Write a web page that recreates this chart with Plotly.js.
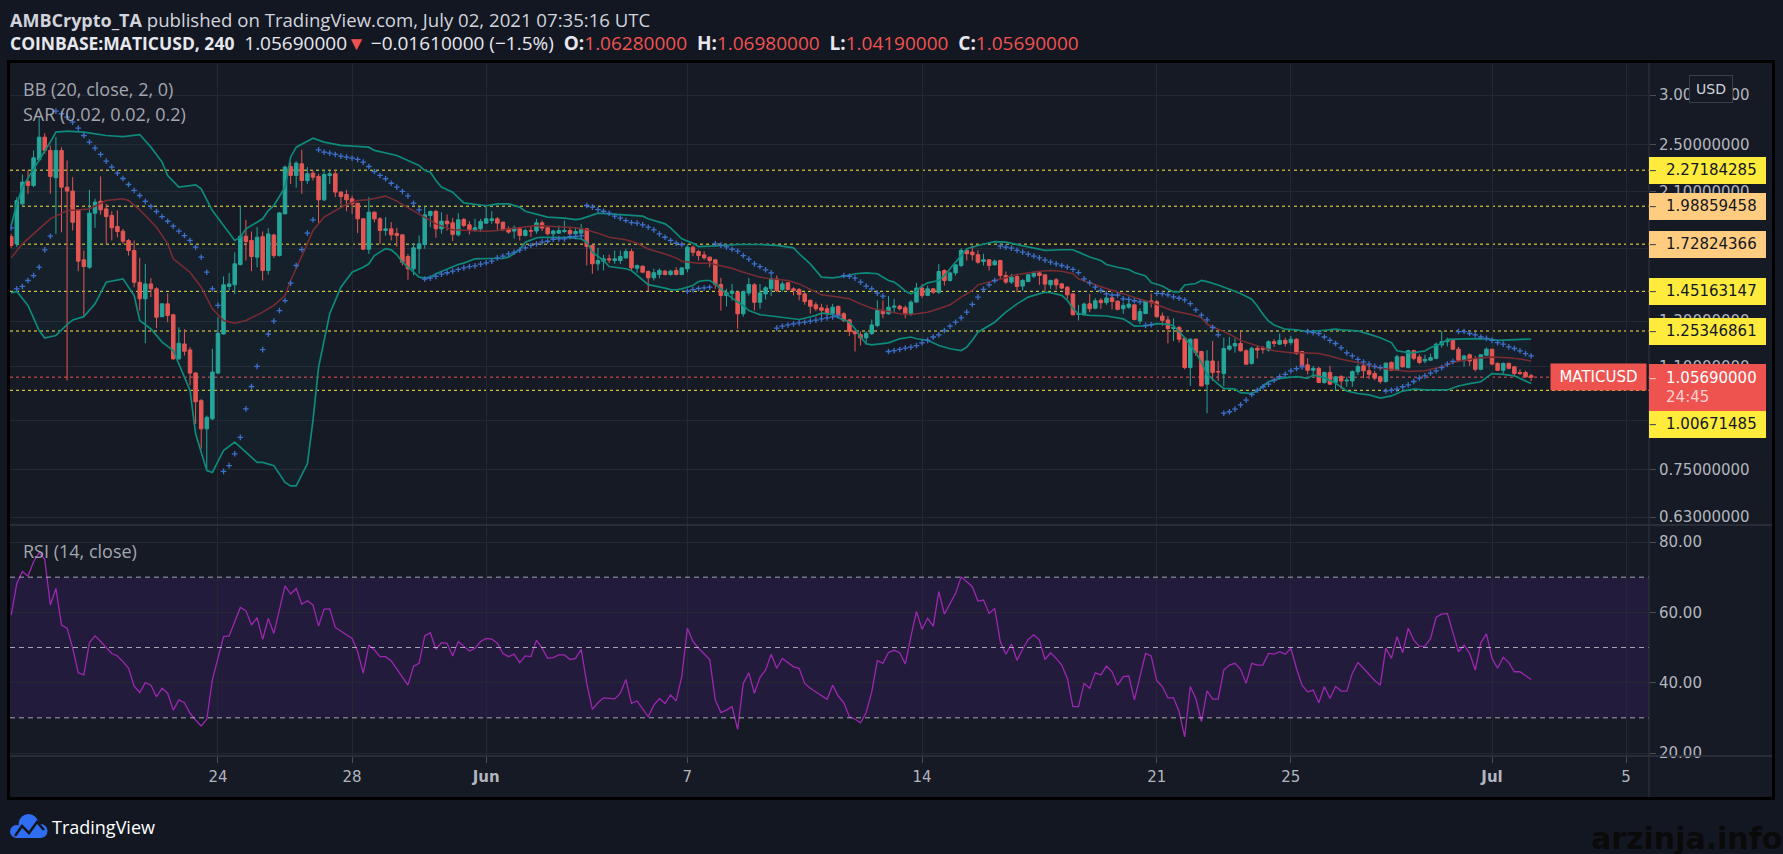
<!DOCTYPE html>
<html><head><meta charset="utf-8">
<script src="https://cdn.plot.ly/plotly-3.0.1.min.js"></script>
<style>html,body{margin:0;padding:0;background:#131722;overflow:hidden}#chart{width:1783px;height:854px}</style>
</head><body><div id="chart"></div>
<script>
// ---------- DATA ----------
const startTime = '2021-05-17T20:00:00Z';   // first visible 4h candle
const stepHours = 4;

const open = [1.777,1.730,2.006,2.179,2.147,2.361,2.567,2.444,2.209,2.444,2.134,2.103,1.962,1.631,1.587,1.938,2.026,1.969,1.921,1.845,1.813,1.752,1.688,1.501,1.412,1.492,1.465,1.322,1.386,1.331,1.131,1.195,1.169,1.073,0.969,0.873,0.906,1.073,1.240,1.478,1.487,1.603,1.780,1.752,1.647,1.777,1.568,1.788,1.657,1.933,2.303,2.228,2.326,2.187,2.247,2.220,2.036,2.228,2.242,2.095,2.077,2.044,2.011,1.898,1.696,1.945,1.898,1.818,1.829,1.798,1.789,1.651,1.578,1.699,1.726,1.922,1.950,1.829,1.882,1.870,1.789,1.893,1.856,1.822,1.829,1.868,1.886,1.898,1.875,1.829,1.814,1.829,1.785,1.818,1.814,1.870,1.836,1.796,1.800,1.811,1.818,1.796,1.800,1.829,1.720,1.607,1.623,1.637,1.627,1.627,1.643,1.682,1.581,1.593,1.562,1.526,1.545,1.564,1.545,1.568,1.545,1.578,1.709,1.682,1.661,1.647,1.631,1.489,1.429,1.441,1.447,1.336,1.443,1.487,1.394,1.438,1.465,1.520,1.462,1.498,1.465,1.462,1.438,1.404,1.381,1.366,1.361,1.336,1.373,1.336,1.306,1.253,1.236,1.222,1.241,1.279,1.353,1.336,1.369,1.374,1.366,1.336,1.395,1.469,1.430,1.465,1.447,1.568,1.511,1.554,1.597,1.689,1.678,1.662,1.621,1.631,1.601,1.627,1.539,1.502,1.533,1.480,1.505,1.535,1.554,1.543,1.487,1.515,1.492,1.474,1.438,1.333,1.331,1.386,1.364,1.404,1.392,1.417,1.400,1.361,1.369,1.381,1.301,1.337,1.401,1.397,1.325,1.306,1.265,1.270,1.220,1.095,1.216,1.162,1.030,1.122,1.079,1.071,1.172,1.186,1.197,1.165,1.112,1.176,1.175,1.168,1.205,1.194,1.211,1.201,1.216,1.162,1.106,1.084,1.092,1.036,1.075,1.036,1.059,1.042,1.042,1.078,1.102,1.082,1.071,1.058,1.040,1.116,1.084,1.140,1.095,1.166,1.139,1.122,1.125,1.133,1.191,1.205,1.211,1.172,1.125,1.148,1.129,1.088,1.146,1.172,1.112,1.084,1.112,1.098,1.075,1.075,1.0628];
const high = [1.795,2.056,2.236,2.269,2.444,2.764,2.605,2.490,2.567,2.474,2.355,2.214,1.962,1.688,2.113,2.044,2.220,2.006,1.952,1.957,1.829,1.762,1.752,1.643,1.607,1.524,1.474,1.389,1.441,1.336,1.271,1.262,1.181,1.077,0.975,0.917,1.174,1.319,1.534,1.553,1.677,1.989,1.891,1.811,1.840,1.811,1.833,1.795,1.945,2.312,2.341,2.349,2.450,2.298,2.269,2.242,2.275,2.269,2.275,2.103,2.113,2.069,2.011,1.903,2.056,1.952,1.910,1.910,1.875,1.836,1.789,1.667,1.736,1.785,1.987,1.957,1.962,1.945,1.929,1.905,1.938,1.905,1.882,1.898,1.898,1.987,1.952,1.910,1.875,1.845,1.852,1.836,1.829,1.845,1.898,1.886,1.845,1.822,1.852,1.886,1.845,1.840,1.863,1.829,1.726,1.705,1.661,1.663,1.688,1.688,1.699,1.699,1.603,1.597,1.568,1.578,1.580,1.572,1.572,1.587,1.587,1.726,1.720,1.692,1.684,1.651,1.631,1.526,1.465,1.492,1.450,1.452,1.526,1.496,1.492,1.480,1.535,1.539,1.505,1.502,1.474,1.469,1.447,1.409,1.395,1.386,1.381,1.386,1.378,1.344,1.311,1.256,1.251,1.251,1.308,1.404,1.404,1.426,1.412,1.381,1.378,1.404,1.498,1.492,1.483,1.469,1.607,1.574,1.562,1.605,1.703,1.703,1.720,1.689,1.668,1.633,1.633,1.631,1.562,1.549,1.549,1.520,1.549,1.562,1.562,1.543,1.516,1.524,1.498,1.480,1.442,1.381,1.392,1.438,1.416,1.416,1.438,1.426,1.404,1.392,1.412,1.381,1.364,1.406,1.440,1.406,1.342,1.325,1.314,1.278,1.226,1.220,1.220,1.165,1.168,1.208,1.122,1.223,1.226,1.220,1.254,1.172,1.183,1.190,1.186,1.211,1.216,1.242,1.223,1.231,1.220,1.165,1.133,1.102,1.098,1.079,1.102,1.062,1.065,1.058,1.084,1.109,1.109,1.106,1.082,1.062,1.116,1.120,1.148,1.143,1.169,1.169,1.150,1.148,1.153,1.201,1.254,1.223,1.216,1.182,1.148,1.153,1.143,1.150,1.179,1.172,1.116,1.116,1.116,1.102,1.088,1.082,1.0698];
const low = [1.705,1.709,1.994,2.082,2.134,2.349,2.414,2.082,1.795,1.806,1.044,1.818,1.564,1.326,1.578,1.836,1.928,1.730,1.752,1.773,1.730,1.657,1.474,1.352,1.198,1.421,1.268,1.319,1.295,1.127,1.127,1.145,1.025,0.889,0.811,0.748,0.902,1.070,1.237,1.456,1.438,1.597,1.627,1.564,1.587,1.511,1.545,1.643,1.651,1.933,2.160,2.129,2.082,2.160,2.187,1.863,2.026,2.160,2.056,2.001,1.952,1.933,1.800,1.696,1.667,1.874,1.730,1.784,1.752,1.713,1.597,1.515,1.540,1.549,1.699,1.840,1.770,1.796,1.818,1.748,1.778,1.840,1.792,1.807,1.807,1.863,1.863,1.822,1.814,1.796,1.763,1.752,1.778,1.774,1.796,1.814,1.785,1.756,1.796,1.800,1.792,1.774,1.774,1.597,1.549,1.568,1.568,1.611,1.607,1.607,1.637,1.568,1.555,1.555,1.452,1.511,1.524,1.540,1.538,1.540,1.540,1.558,1.653,1.627,1.631,1.587,1.465,1.352,1.372,1.403,1.264,1.322,1.429,1.352,1.361,1.409,1.426,1.447,1.451,1.456,1.430,1.404,1.381,1.336,1.349,1.311,1.328,1.331,1.320,1.295,1.230,1.162,1.188,1.192,1.236,1.271,1.314,1.331,1.344,1.353,1.314,1.325,1.392,1.416,1.426,1.438,1.437,1.483,1.505,1.539,1.587,1.627,1.627,1.607,1.597,1.568,1.597,1.520,1.492,1.492,1.447,1.456,1.502,1.524,1.487,1.456,1.465,1.462,1.462,1.412,1.328,1.303,1.325,1.344,1.358,1.361,1.381,1.358,1.353,1.336,1.361,1.303,1.285,1.334,1.367,1.317,1.278,1.197,1.208,1.201,1.088,1.023,1.143,1.023,0.925,1.042,1.042,1.023,1.165,1.157,1.162,1.105,1.107,1.133,1.153,1.162,1.182,1.191,1.184,1.191,1.148,1.099,1.068,1.055,1.036,1.032,1.027,1.004,1.011,1.020,1.020,1.066,1.053,1.049,1.045,1.032,1.036,1.082,1.082,1.095,1.092,1.125,1.109,1.112,1.122,1.129,1.179,1.184,1.168,1.122,1.099,1.102,1.079,1.084,1.143,1.106,1.082,1.068,1.088,1.058,1.066,1.055,1.0419];
const close = [1.720,2.031,2.174,2.147,2.378,2.567,2.444,2.220,2.444,2.134,2.103,1.874,1.623,1.591,1.938,2.019,1.962,1.914,1.836,1.811,1.747,1.688,1.501,1.412,1.492,1.465,1.319,1.386,1.328,1.131,1.198,1.163,1.073,0.965,0.873,0.911,1.077,1.243,1.487,1.492,1.607,1.780,1.745,1.651,1.773,1.568,1.795,1.657,1.940,2.298,2.228,2.332,2.187,2.242,2.214,2.036,2.236,2.242,2.095,2.061,2.036,2.006,1.898,1.696,1.945,1.898,1.818,1.829,1.789,1.785,1.617,1.578,1.705,1.730,1.926,1.950,1.829,1.882,1.863,1.792,1.891,1.852,1.825,1.836,1.879,1.898,1.898,1.868,1.822,1.807,1.834,1.785,1.818,1.814,1.870,1.834,1.796,1.814,1.818,1.818,1.796,1.811,1.829,1.713,1.607,1.627,1.637,1.631,1.637,1.651,1.682,1.583,1.597,1.558,1.526,1.555,1.568,1.545,1.564,1.545,1.583,1.709,1.677,1.657,1.643,1.627,1.489,1.429,1.443,1.452,1.336,1.450,1.489,1.394,1.443,1.471,1.520,1.456,1.492,1.462,1.456,1.435,1.398,1.374,1.361,1.353,1.336,1.369,1.331,1.303,1.251,1.241,1.222,1.243,1.282,1.353,1.336,1.369,1.374,1.361,1.336,1.395,1.469,1.430,1.465,1.447,1.562,1.511,1.554,1.601,1.689,1.668,1.662,1.617,1.631,1.597,1.623,1.539,1.502,1.530,1.478,1.511,1.543,1.554,1.539,1.491,1.511,1.487,1.469,1.433,1.331,1.336,1.385,1.361,1.402,1.392,1.416,1.398,1.358,1.378,1.385,1.308,1.347,1.401,1.392,1.322,1.304,1.265,1.270,1.216,1.095,1.216,1.157,1.023,1.122,1.075,1.078,1.175,1.186,1.197,1.165,1.109,1.176,1.168,1.172,1.205,1.197,1.211,1.197,1.216,1.153,1.102,1.084,1.092,1.036,1.075,1.030,1.058,1.042,1.045,1.079,1.099,1.082,1.068,1.053,1.040,1.113,1.084,1.140,1.098,1.166,1.133,1.116,1.129,1.136,1.194,1.205,1.211,1.172,1.125,1.143,1.122,1.088,1.148,1.172,1.109,1.084,1.112,1.092,1.071,1.071,1.058,1.0569];

// Parabolic SAR (0.02, 0.02, 0.2), one dot per candle
const sar = [1.836,1.465,1.478,1.511,1.539,1.587,1.692,1.780,2.826,2.799,2.764,2.714,2.654,2.583,2.521,2.465,2.408,2.349,2.298,2.247,2.203,2.155,2.108,2.069,2.024,1.987,1.950,1.914,1.881,1.847,1.813,1.784,1.752,1.709,1.647,1.558,1.465,1.378,0.746,0.762,0.796,0.846,0.940,1.021,1.100,1.170,1.239,1.300,1.352,1.403,1.496,1.597,1.694,1.800,1.891,2.450,2.429,2.420,2.408,2.393,2.384,2.375,2.364,2.341,2.303,2.261,2.228,2.201,2.165,2.134,2.100,2.066,2.011,1.962,1.519,1.524,1.534,1.547,1.555,1.564,1.574,1.583,1.591,1.595,1.605,1.613,1.623,1.643,1.653,1.667,1.677,1.690,1.705,1.720,1.730,1.741,1.747,1.760,1.762,1.762,1.777,1.779,1.782,1.994,1.982,1.964,1.952,1.938,1.917,1.903,1.886,1.872,1.868,1.856,1.840,1.822,1.795,1.773,1.752,1.734,1.726,1.452,1.461,1.467,1.470,1.474,1.730,1.722,1.711,1.696,1.684,1.657,1.635,1.607,1.591,1.572,1.554,1.267,1.276,1.282,1.287,1.292,1.295,1.300,1.305,1.311,1.316,1.321,1.326,1.539,1.535,1.524,1.502,1.480,1.465,1.442,1.426,1.162,1.166,1.171,1.177,1.181,1.188,1.200,1.211,1.226,1.236,1.256,1.276,1.295,1.316,1.344,1.383,1.421,1.462,1.487,1.511,1.716,1.709,1.703,1.689,1.678,1.666,1.654,1.643,1.629,1.617,1.607,1.597,1.587,1.574,1.556,1.520,1.498,1.474,1.456,1.438,1.432,1.432,1.412,1.409,1.402,1.396,1.280,1.283,1.441,1.439,1.433,1.422,1.415,1.406,1.387,1.355,1.329,1.306,1.270,1.236,0.925,0.930,0.939,0.954,0.971,0.991,1.007,1.020,1.030,1.045,1.059,1.068,1.082,1.091,1.098,1.251,1.246,1.242,1.226,1.211,1.197,1.178,1.156,1.143,1.129,1.118,1.109,1.100,1.095,1.004,1.007,1.011,1.020,1.027,1.040,1.053,1.062,1.073,1.082,1.095,1.109,1.120,1.251,1.251,1.242,1.236,1.226,1.220,1.211,1.201,1.194,1.182,1.175,1.165,1.153,1.143];

// RSI (14, close), one value per candle (null = not readable)
const rsi = [59.2,68.2,71.6,70.3,74.4,77.0,75.1,62.1,66.8,56.4,55.5,49.8,42.8,42.2,51.4,53.3,51.7,null,48.3,47.6,46.0,44.1,39.0,37.2,40.0,39.3,36.0,38.4,37.0,32.2,35.1,34.3,31.3,29.4,27.7,29.6,40.9,null,53.1,53.3,null,61.4,60.5,56.4,58.5,52.3,58.3,54.0,null,67.5,65.2,66.8,62.3,63.3,62.1,56.1,60.9,61.0,55.7,54.7,null,52.6,48.8,42.7,50.7,49.3,47.4,47.4,46.2,null,41.7,39.3,44.7,45.5,53.3,54.2,49.5,51.4,51.2,47.6,51.7,50.4,49.0,49.8,51.7,52.6,52.4,51.2,48.3,47.4,48.1,45.7,47.6,47.4,52.1,49.8,46.9,47.1,47.9,47.9,46.6,46.9,49.5,39.8,32.4,34.3,35.7,null,35.4,37.0,40.9,34.1,34.8,null,30.3,33.6,35.5,34.1,36.5,34.8,41.7,55.5,51.7,49.8,48.3,46.6,35.1,31.5,32.2,33.2,26.7,39.8,42.8,37.0,41.5,43.6,48.1,44.1,46.9,null,44.5,44.1,39.8,38.4,37.4,null,35.3,39.3,36.2,34.3,30.3,29.6,28.6,31.5,37.4,46.3,45.5,48.6,49.2,48.5,45.3,53.1,60.2,55.2,58.3,56.1,65.9,59.5,62.6,65.4,70.1,68.7,67.3,63.2,63.5,59.7,61.1,51.7,48.1,51.0,46.4,49.5,52.3,53.6,52.1,46.6,48.5,46.9,45.0,41.2,33.2,33.2,39.8,38.4,42.8,42.2,44.7,43.1,39.3,41.7,41.9,35.1,null,48.3,47.6,40.6,38.9,35.7,35.7,31.8,24.6,38.9,35.5,28.9,37.7,35.3,35.3,43.6,45.0,45.5,43.8,39.8,45.5,45.0,45.0,48.3,48.1,48.8,48.1,49.8,44.1,39.3,37.4,37.9,34.3,38.9,35.5,38.9,37.6,37.6,42.7,45.7,44.1,42.4,40.6,39.3,49.8,46.9,53.1,48.5,55.5,52.1,50.3,50.4,52.6,58.6,59.5,59.7,54.0,48.8,50.7,48.3,43.6,51.4,53.9,46.9,44.1,47.2,45.7,43.1,43.1,41.9,40.9];

// Bollinger Bands (20, close, 2) read at the listed candle numbers
const bbUpperIdx = [0,1,2,5,7,8,10,13,17,20,23,25,27,28,30,33,34,36,39,40,41,42,45,46,47,49,50,51,54,56,59,64,65,67,69,71,73,74,75,76,77,79,80,81,85,87,89,91,92,94,96,99,101,102,104,105,107,110,112,113,114,117,118,119,120,122,123,126,130,134,137,140,141,143,144,145,147,149,151,153,155,156,157,158,159,160,161,162,163,164,166,167,168,169,170,171,173,175,176,178,180,182,184,185,188,190,191,193,195,196,198,200,201,203,204,206,207,208,209,210,212,213,214,216,218,220,222,223,224,225,226,228,230,232,235,237,238,241,243,245,247,248,250,251,253,254,256,257,262,265,266,268,271,272];
const bbUpper = [1.852,2.006,2.134,2.355,2.521,2.615,2.625,2.615,2.583,2.573,2.592,2.474,2.341,2.228,2.134,2.152,2.121,1.957,1.795,1.752,1.773,1.829,1.898,1.957,1.994,2.134,2.384,2.474,2.557,2.521,2.490,2.474,2.444,2.420,2.399,2.355,2.312,2.269,2.256,2.187,2.134,2.095,2.051,2.013,1.992,2.006,2.006,1.982,1.952,1.933,1.910,1.903,1.893,1.898,1.922,1.938,1.933,1.926,1.922,1.917,1.898,1.863,1.836,1.796,1.763,1.734,1.713,1.717,1.726,1.726,1.720,1.705,1.668,1.607,1.568,1.530,1.526,1.535,1.549,1.554,1.549,1.530,1.511,1.502,1.480,1.453,1.438,1.456,1.480,1.498,1.511,1.539,1.578,1.617,1.658,1.699,1.720,1.735,1.745,1.741,1.726,1.709,1.695,1.689,1.693,1.693,1.678,1.648,1.627,1.603,1.587,1.574,1.556,1.537,1.500,1.481,1.463,1.449,1.449,1.486,1.494,1.512,1.505,1.486,1.463,1.440,1.410,1.375,1.334,1.301,1.282,1.262,1.259,1.251,1.257,1.262,1.259,1.254,1.239,1.223,1.201,1.165,1.157,1.157,1.165,1.179,1.197,1.215,1.219,1.216,1.211,1.213,1.216,1.217];
const bbLowerIdx = [0,1,3,5,6,8,10,11,13,15,17,20,22,23,25,27,29,30,32,33,35,36,38,40,42,44,45,47,49,50,51,53,54,55,57,59,61,63,64,65,67,68,69,70,72,73,74,75,76,78,79,80,81,82,83,86,88,89,91,92,93,94,95,98,100,102,103,104,106,107,109,110,111,112,113,114,117,118,119,120,122,123,124,125,126,128,130,131,132,134,136,139,141,142,144,145,147,148,150,151,152,153,154,157,159,161,162,164,166,168,170,171,172,173,176,178,180,182,184,185,186,188,189,190,191,193,196,197,199,200,201,203,205,207,208,210,212,213,214,216,217,219,220,222,223,224,225,227,229,230,232,233,235,237,239,241,243,245,247,249,251,253,257,259,261,263,264,265,267,269,272];
const bbLower = [1.443,1.451,1.378,1.256,1.221,1.233,1.284,1.306,1.322,1.386,1.501,1.520,1.429,1.303,1.263,1.203,1.166,1.110,1.006,0.857,0.748,0.743,0.806,0.831,0.801,0.771,0.771,0.762,0.716,0.707,0.707,0.767,0.900,1.096,1.336,1.474,1.558,1.587,1.607,1.657,1.700,1.692,1.663,1.617,1.558,1.530,1.524,1.530,1.549,1.578,1.591,1.603,1.611,1.623,1.637,1.639,1.639,1.647,1.694,1.741,1.756,1.769,1.773,1.773,1.771,1.762,1.741,1.677,1.627,1.591,1.581,1.578,1.568,1.539,1.511,1.488,1.469,1.461,1.460,1.465,1.483,1.505,1.511,1.511,1.492,1.438,1.395,1.378,1.352,1.331,1.325,1.316,1.308,1.314,1.328,1.339,1.333,1.316,1.295,1.264,1.226,1.196,1.191,1.200,1.218,1.226,1.218,1.211,1.188,1.174,1.166,1.181,1.211,1.248,1.295,1.344,1.386,1.421,1.438,1.447,1.444,1.430,1.404,1.361,1.336,1.328,1.325,1.320,1.311,1.295,1.276,1.278,1.288,1.285,1.278,1.223,1.157,1.116,1.068,1.030,1.014,1.011,0.998,0.995,1.004,1.023,1.039,1.052,1.055,1.059,1.052,1.065,1.055,1.033,1.004,0.995,0.990,0.978,0.986,1.004,1.011,1.008,1.008,1.023,1.032,1.039,1.055,1.071,1.068,1.062,1.032];
const bbBasisIdx = [0,2,5,7,10,12,14,17,20,21,23,26,28,29,32,34,36,38,40,42,44,45,47,49,50,52,53,54,56,58,60,62,64,66,67,69,72,74,76,79,81,85,87,89,92,94,97,99,101,103,105,107,110,112,114,117,119,120,123,125,126,129,131,133,134,136,139,141,143,145,148,150,152,154,157,159,161,164,166,168,170,172,173,176,178,179,182,184,186,188,190,191,194,196,198,200,201,204,206,208,211,213,214,216,218,220,222,224,226,229,231,234,236,238,241,243,245,248,250,253,254,256,258,260,262,265,266,268,270,272];
const bbBasis = [1.643,1.730,1.829,1.898,1.957,1.962,1.969,2.031,2.044,2.031,1.962,1.840,1.730,1.637,1.558,1.474,1.361,1.303,1.290,1.303,1.328,1.344,1.378,1.429,1.511,1.647,1.730,1.818,1.910,1.957,2.001,2.031,2.036,2.056,2.064,2.026,1.957,1.910,1.863,1.822,1.818,1.813,1.818,1.829,1.845,1.852,1.845,1.840,1.836,1.822,1.800,1.773,1.756,1.734,1.698,1.667,1.643,1.623,1.611,1.611,1.603,1.581,1.558,1.539,1.530,1.520,1.511,1.492,1.462,1.433,1.421,1.412,1.386,1.364,1.347,1.336,1.333,1.344,1.361,1.381,1.421,1.456,1.487,1.511,1.526,1.539,1.554,1.564,1.568,1.564,1.549,1.520,1.487,1.465,1.447,1.430,1.419,1.393,1.370,1.350,1.334,1.317,1.285,1.262,1.239,1.211,1.194,1.179,1.165,1.157,1.157,1.153,1.143,1.129,1.116,1.102,1.092,1.084,1.079,1.082,1.088,1.098,1.116,1.126,1.133,1.139,1.139,1.136,1.130,1.122];

// Axis ticks and labels
const dateTicks = ['2021-05-24','2021-05-28','2021-06-01','2021-06-07','2021-06-14','2021-06-21','2021-06-25','2021-07-01','2021-07-05'];
const dateTickText = ['24','28','<b>Jun</b>','7','14','21','25','<b>Jul</b>','5'];
const xRange = ['2021-05-17 19:08', '2021-07-05 16:22'];
const priceTicks = [0.63,0.75,0.9,1.1,1.3,1.7,2.1,2.5,3.0];
const priceTickText = ['0.63000000','0.75000000','0.90000000','1.10000000','1.30000000','1.70000000','2.10000000','2.50000000','3.00000000'];
const priceRange = [0.6118, 3.377];
const rsiTicks = [20,40,60,80];
const rsiTickText = ['20.00','40.00','60.00','80.00'];
const rsiRange = [19.15, 84.55];
const rsiLevels = [70,50,30];

// Horizontal price levels drawn by the author
const levels = [2.27184285,1.98859458,1.72824366,1.45163147,1.25346861,1.00671485];
const levelText = ['2.27184285','1.98859458','1.72824366','1.45163147','1.25346861','1.00671485'];
const levelColor = ['#ffeb3b','#ffcc80','#ffcc80','#ffeb3b','#ffeb3b','#ffeb3b'];
const levelLabelShift = [0,0,0,0,0,-33.7];
const lastPrice = 1.0569;
const lastPriceText = '1.05690000';
const countdown = '24:45';

// ---------- BUILD ----------
const t0 = Date.parse(startTime);
const tAt = i => new Date(t0 + i * stepHours * 3600e3).toISOString().slice(0,19).replace('T',' ');
const times = open.map((_, i) => tAt(i));

const PL = 10, PR = 1649, PT = 63, PB = 756, W = PR - PL, H = PB - PT;
const px = v => (v - PL) / W;
const py = v => (PB - v) / H;
const mainDomain = [py(525), 1];
const rsiDomain = [0, py(526)];

const up = '#26a69a', down = '#ef5350';
const traces = [
  {type:'scatter', mode:'lines', x: bbLowerIdx.map(tAt), y: bbLower, line:{width:0, color:'rgba(0,0,0,0)'}, xaxis:'x', yaxis:'y', hoverinfo:'skip'},
  {type:'scatter', mode:'lines', x: bbUpperIdx.map(tAt), y: bbUpper, line:{width:0, color:'rgba(0,0,0,0)'}, fill:'tonexty', fillcolor:'rgba(38,166,154,0.05)', xaxis:'x', yaxis:'y', hoverinfo:'skip'},
  {type:'candlestick', x: times, open, high, low, close, xaxis:'x', yaxis:'y',
    increasing:{line:{color:up, width:1}, fillcolor:up}, decreasing:{line:{color:down, width:1}, fillcolor:down},
    whiskerwidth:0, hoverinfo:'skip'},
  {type:'scatter', mode:'lines', x: bbUpperIdx.map(tAt), y: bbUpper, line:{width:1.7, color:'#0d8a7b'}, xaxis:'x', yaxis:'y', hoverinfo:'skip'},
  {type:'scatter', mode:'lines', x: bbLowerIdx.map(tAt), y: bbLower, line:{width:1.7, color:'#0d8a7b'}, xaxis:'x', yaxis:'y', hoverinfo:'skip'},
  {type:'scatter', mode:'lines', x: bbBasisIdx.map(tAt), y: bbBasis, line:{width:1.5, color:'#7c2c31'}, xaxis:'x', yaxis:'y', hoverinfo:'skip'},
  {type:'scatter', mode:'markers', x: times, y: sar, marker:{symbol:'cross-thin', size:4, line:{width:1.3, color:'#3d6fcc'}}, xaxis:'x', yaxis:'y', hoverinfo:'skip'},
  {type:'scatter', mode:'lines', x: times, y: rsi, connectgaps:true, line:{width:1.3, color:'#9c27b0'}, xaxis:'x', yaxis:'y2', hoverinfo:'skip'}
];

const grid = '#242832', sep = '#30343f', axisText = '#b2b5be';
const shapes = [];
const annotations = [];
// chart frame
shapes.push({type:'rect', xref:'paper', yref:'paper', x0:px(8.5), x1:px(1773.5), y0:py(798.5), y1:py(61.5), fillcolor:'#161a25', line:{color:'#000000', width:3}, layer:'below'});
// RSI band
shapes.push({type:'rect', xref:'paper', x0:0, x1:1, yref:'y2', y0:30, y1:70, fillcolor:'#231b3b', line:{width:0}, layer:'below'});
// dotted price levels
levels.forEach(v => shapes.push({type:'line', xref:'paper', x0:0, x1:1, yref:'y', y0:v, y1:v, line:{color:'#ffeb3b', width:1, dash:'dot'}, layer:'below'}));
shapes.push({type:'line', xref:'paper', x0:0, x1:1, yref:'y', y0:lastPrice, y1:lastPrice, line:{color:'#ef5350', width:1, dash:'dot'}, layer:'below'});
// RSI dashed levels
rsiLevels.forEach(v => shapes.push({type:'line', xref:'paper', x0:0, x1:1, yref:'y2', y0:v, y1:v, line:{color:'rgba(210,212,220,0.75)', width:1, dash:'5px,4px'}, layer:'above'}));
// separators
shapes.push({type:'line', xref:'paper', yref:'paper', x0:0, x1:px(1772), y0:py(525), y1:py(525), line:{color:sep, width:1.5}, layer:'above'});
shapes.push({type:'line', xref:'paper', yref:'paper', x0:0, x1:px(1772), y0:0, y1:0, line:{color:sep, width:1.5}, layer:'above'});
shapes.push({type:'line', xref:'paper', yref:'paper', x0:1, x1:1, y0:py(797), y1:py(63), line:{color:sep, width:1}, layer:'above'});

// right-hand price labels (annotation boxes sit above the axis tick labels)
const lblFont = 'DejaVu Sans, Verdana, sans-serif';
const dash = c => '<span style="color:'+c+'">–</span>&nbsp;&nbsp;';
levels.forEach((v, i) => {
  annotations.push({xref:'paper', x:1, xanchor:'left', yref:'y', y:Math.log10(v), yshift:levelLabelShift[i], yanchor:'middle',
    width:117, height:26.8, align:'left', valign:'middle', bgcolor:levelColor[i], borderpad:0, borderwidth:0, showarrow:false,
    text:dash('#4e4d52') + levelText[i], font:{family:lblFont, size:15, color:'#131722'}});
});
// last price box
annotations.push({xref:'paper', x:1, xanchor:'left', yref:'y', y:Math.log10(lastPrice), yshift:12.7, yanchor:'top',
  width:117, height:47.4, align:'left', valign:'middle', bgcolor:'#ef5350', borderpad:0, borderwidth:0, showarrow:false,
  text:dash('#f7c2c1') + lastPriceText + '<br>' + dash('#ef5350') + '<span style="color:#fbd0cf">' + countdown + '</span>',
  font:{family:lblFont, size:15, color:'#ffffff'}});
annotations.push({xref:'paper', x:1, xanchor:'right', xshift:-2, yref:'y', y:Math.log10(lastPrice), yanchor:'middle',
  width:95, height:26, align:'center', valign:'middle', bgcolor:'#ef5350', borderpad:0, showarrow:false,
  text:'MATICUSD', font:{family:lblFont, size:15, color:'#ffffff'}});
// USD badge
annotations.push({xref:'paper', yref:'paper', x:px(1711), y:py(89), xanchor:'center', yanchor:'middle', width:42, height:26,
  bgcolor:'#161a25', bordercolor:'#3a3e49', borderwidth:1, borderpad:0, showarrow:false, text:'USD', font:{family:lblFont, size:14, color:'#d1d4dc'}});

// header texts
const hdrFont = 'Open Sans, Noto Sans, sans-serif';
annotations.push({xref:'paper', yref:'paper', x:px(8), y:py(19), xanchor:'left', yanchor:'middle', showarrow:false,
  text:'<span style="font-size:18px"><b>AMBCrypto_TA</b></span> published on TradingView.com, July 02, 2021 07:35:16 UTC', font:{family:hdrFont, size:18.6, color:'#d1d4dc'}});
const red = s => '<span style="color:#ef5350">'+s+'</span>';
annotations.push({xref:'paper', yref:'paper', x:px(8), y:py(43), xanchor:'left', yanchor:'middle', showarrow:false,
  text:'<span style="font-size:17.5px"><b>COINBASE:MATICUSD, 240</b></span>&nbsp; 1.05690000'+red('▼')+' −0.01610000 (−1.5%)&nbsp; <b>O:</b>'+red('1.06280000')+'&nbsp; <b>H:</b>'+red('1.06980000')+'&nbsp; <b>L:</b>'+red('1.04190000')+'&nbsp; <b>C:</b>'+red('1.05690000'),
  font:{family:hdrFont, size:19, color:'#e6e8ee'}});
// indicator legends
const legFont = {family:hdrFont, size:18, color:'#a3a6af'};
annotations.push({xref:'paper', yref:'paper', x:px(21), y:py(89), xanchor:'left', yanchor:'middle', showarrow:false, text:'BB (20, close, 2, 0)', font:legFont});
annotations.push({xref:'paper', yref:'paper', x:px(21), y:py(114), xanchor:'left', yanchor:'middle', showarrow:false, text:'SAR (0.02, 0.02, 0.2)', font:legFont});
annotations.push({xref:'paper', yref:'paper', x:px(21), y:py(551), xanchor:'left', yanchor:'middle', showarrow:false, text:'RSI (14, close)', font:legFont});

// TradingView logo (cloud)
const P = (X, Y) => ({x: X - PL, y: PB - Y});
const logoBlue = '#2f6ef2';
[[16.5,831.5,6.5],[28.5,824,10],[40.5,831,7]].forEach(([cx,cy,r]) => {
  const a = P(cx - r, cy + r), b = P(cx + r, cy - r);
  shapes.push({type:'circle', xref:'paper', yref:'paper', xsizemode:'pixel', ysizemode:'pixel', xanchor:0, yanchor:0, x0:a.x, x1:b.x, y0:a.y, y1:b.y, fillcolor:logoBlue, line:{width:0}, layer:'above'});
});
{ const a = P(16.5, 838), b = P(40.5, 826);
  shapes.push({type:'rect', xref:'paper', yref:'paper', xsizemode:'pixel', ysizemode:'pixel', xanchor:0, yanchor:0, x0:a.x, x1:b.x, y0:a.y, y1:b.y, fillcolor:logoBlue, line:{width:0}, layer:'above'}); }
{ const pts = [P(15,836),P(22,826),P(29,833),P(37,822),P(44,830)];
  shapes.push({type:'path', xref:'paper', yref:'paper', xsizemode:'pixel', ysizemode:'pixel', xanchor:0, yanchor:0,
    path:'M'+pts.map(p => p.x+','+p.y).join(' L'), line:{color:'#131722', width:2.5}, layer:'above'}); }
annotations.push({xref:'paper', yref:'paper', x:px(50), y:py(827), xanchor:'left', yanchor:'middle', showarrow:false, text:'TradingView', font:{family:hdrFont, size:18, color:'#ffffff'}});
// watermark
annotations.push({xref:'paper', yref:'paper', x:px(1784), y:py(838), xanchor:'right', yanchor:'middle', showarrow:false, text:'<b>arzinja.info</b>', font:{family:'DejaVu Sans, Verdana, sans-serif', size:30, color:'#0a0a0b'}});

const layout = {
  width:1783, height:854, margin:{l:PL, r:1783-PR, t:PT, b:854-PB, pad:0},
  paper_bgcolor:'#131722', plot_bgcolor:'rgba(0,0,0,0)', showlegend:false, hovermode:false, dragmode:false,
  boxgap:0.1, boxgroupgap:0.3,
  xaxis:{type:'date', range:xRange, anchor:'y2', domain:[0,1], tickvals:dateTicks, ticktext:dateTickText,
    showgrid:true, gridcolor:grid, gridwidth:1, zeroline:false, showline:false, ticks:'outside', ticklen:6, tickcolor:'#4a4e59',
    ticklabelstandoff:1, tickfont:{family:lblFont, size:15, color:axisText}, rangeslider:{visible:false}, fixedrange:true},
  yaxis:{type:'log', domain:mainDomain, range:[Math.log10(priceRange[0]), Math.log10(priceRange[1])], side:'right', anchor:'x',
    tickvals:priceTicks, ticktext:priceTickText, showgrid:true, gridcolor:grid, zeroline:false, showline:false,
    ticks:'outside', ticklen:6, tickcolor:'#4a4e59', tickfont:{family:lblFont, size:15, color:axisText}, fixedrange:true},
  yaxis2:{domain:rsiDomain, range:rsiRange, side:'right', anchor:'x', tickvals:rsiTicks, ticktext:rsiTickText,
    showgrid:true, gridcolor:grid, zeroline:false, showline:false, ticks:'outside', ticklen:6, tickcolor:'#4a4e59',
    tickfont:{family:lblFont, size:15, color:axisText}, fixedrange:true},
  shapes, annotations
};
Plotly.newPlot('chart', traces, layout, {staticPlot:true, displayModeBar:false});
</script></body></html>
